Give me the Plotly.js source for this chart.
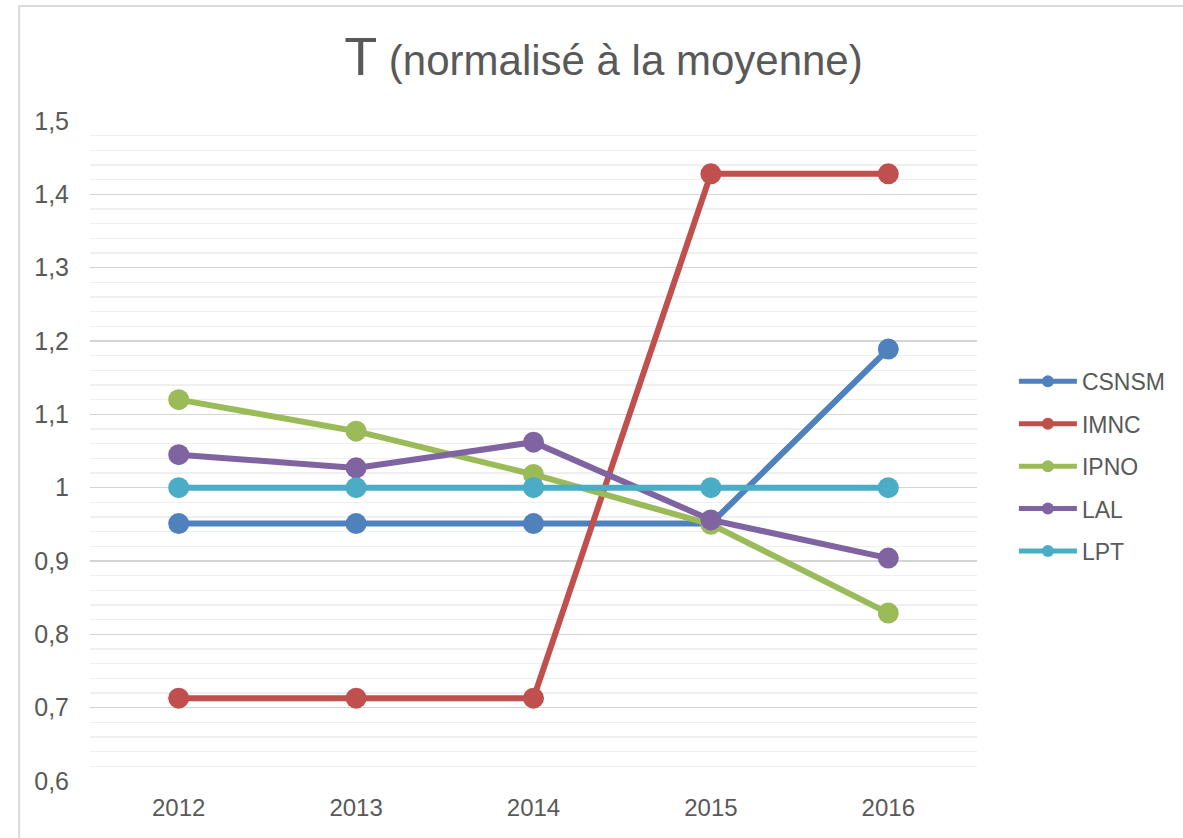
<!DOCTYPE html>
<html>
<head>
<meta charset="utf-8">
<script src="https://cdn.plot.ly/plotly-3.0.1.min.js"></script>
<style>html,body{margin:0;padding:0;background:#fff;}#chart{width:1183px;height:838px;}</style>
</head>
<body>
<div id="chart"></div>
<script>
const years = ['2012', '2013', '2014', '2015', '2016'];
const seriesNames = ['CSNSM', 'IMNC', 'IPNO', 'LAL', 'LPT'];
const csnsm = [0.951, 0.951, 0.951, 0.951, 1.189];
const imnc  = [0.713, 0.713, 0.713, 1.428, 1.428];
const ipno  = [1.120, 1.077, 1.018, 0.950, 0.829];
const lal   = [1.045, 1.027, 1.062, 0.956, 0.904];
const lpt   = [1.000, 1.000, 1.000, 1.000, 1.000];
const colors = ['#4F81BD', '#C0504D', '#9BBB59', '#8064A2', '#4BACC6'];
const yTicks = [0.6, 0.7, 0.8, 0.9, 1.0, 1.1, 1.2, 1.3, 1.4, 1.5];

const values = [csnsm, imnc, ipno, lal, lpt];
const font = 'Liberation Sans, Arial, sans-serif';
const grey = '#595959';

const traces = values.map((v, i) => ({
  type: 'scatter',
  mode: 'lines+markers',
  name: seriesNames[i],
  legendgroup: seriesNames[i],
  x: years,
  y: v,
  line: {color: colors[i], width: 6},
  marker: {color: colors[i], size: 21}
}));

const layout = {
  width: 1183,
  height: 838,
  margin: {l: 90, r: 203, t: 121, b: 57},
  paper_bgcolor: '#ffffff',
  plot_bgcolor: '#ffffff',
  separators: ', ',
  font: {family: font, color: grey, size: 23},
  title: {
    text: '<span style="font-size:54px">T</span> (normalisé à la moyenne)',
    font: {family: font, size: 42, color: grey},
    xref: 'container', x: 0.5101, xanchor: 'center',
    yref: 'container', y: 0.928, yanchor: 'middle'
  },
  xaxis: {
    type: 'category',
    range: [-0.5, 4.5],
    showgrid: false,
    zeroline: false,
    showline: false,
    ticks: '',
    ticklabelstandoff: 10,
    tickfont: {family: font, size: 24, color: grey},
    fixedrange: true
  },
  yaxis: {
    range: [0.6, 1.5],
    tickvals: yTicks,
    showgrid: true,
    gridcolor: '#d4d4d4',
    gridwidth: 1.5,
    zeroline: false,
    showline: false,
    ticks: '',
    ticklabelstandoff: 20,
    tickfont: {family: font, size: 25, color: grey},
    minor: {dtick: 0.02, showgrid: true, gridcolor: '#efefef', gridwidth: 1.5},
    fixedrange: true
  },
  legend: {
    x: 1.0416, xanchor: 'left',
    y: 0.638, yanchor: 'top',
    font: {family: font, size: 23, color: grey},
    itemwidth: 58,
    itemsizing: 'constant',
    tracegroupgap: 9.5,
    bgcolor: 'rgba(0,0,0,0)'
  },
  shapes: [{
    type: 'rect', xref: 'paper', yref: 'paper',
    x0: -0.0798, x1: 1.25, y0: -0.12, y1: 1.1742,
    line: {color: '#d9d9d9', width: 2},
    layer: 'below'
  }],
  showlegend: true
};

Plotly.newPlot('chart', traces, layout, {displayModeBar: false, staticPlot: true});
</script>
</body>
</html>
